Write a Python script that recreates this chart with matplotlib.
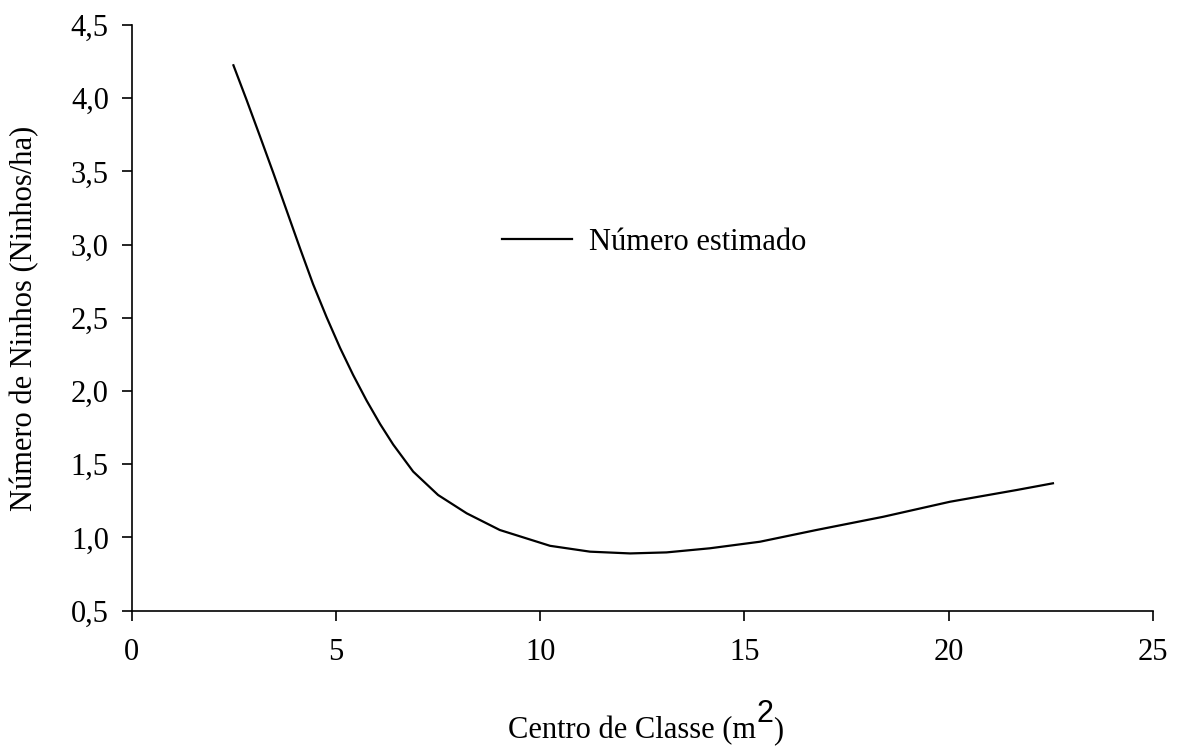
import numpy as np
import matplotlib
matplotlib.use("Agg")
import matplotlib.pyplot as plt

plt.rcParams['font.family'] = ['Liberation Serif', 'DejaVu Serif']

# estimated nest density along class centre
centro = [2.49, 2.81, 3.14, 3.47, 3.79, 4.12, 4.44, 4.77, 5.10, 5.42, 5.75,
          6.08, 6.40, 6.89, 7.50, 8.20, 9.01, 10.24, 11.22, 12.20, 13.09,
          14.15, 15.38, 16.76, 18.39, 20.03, 21.66, 22.55]
ninhos = [4.225, 3.990, 3.740, 3.487, 3.235, 2.975, 2.730, 2.505, 2.295,
          2.110, 1.935, 1.775, 1.635, 1.450, 1.290, 1.165, 1.051, 0.943,
          0.903, 0.891, 0.898, 0.926, 0.971, 1.051, 1.141, 1.244, 1.324,
          1.370]

x_ticks = [0, 5, 10, 15, 20, 25]
y_ticks = [0.5, 1.0, 1.5, 2.0, 2.5, 3.0, 3.5, 4.0, 4.5]
y_tick_labels = ['0,5', '1,0', '1,5', '2,0', '2,5', '3,0', '3,5', '4,0', '4,5']

FS = 22

fig = plt.figure(figsize=(11.78, 7.47), dpi=100)
ax = fig.add_axes([0.1118, 0.1825, 0.867, 0.784])

ax.plot(centro, ninhos, color='black', linewidth=1.6,
        solid_joinstyle='round', label='Número estimado')

ax.set_xlim(0, 25)
ax.set_ylim(0.5, 4.5)
ax.set_xticks(x_ticks)
ax.set_xticklabels([str(t) for t in x_ticks])
ax.set_yticks(y_ticks)
ax.set_yticklabels(y_tick_labels)

for side in ['top', 'right']:
    ax.spines[side].set_visible(False)
for side in ['left', 'bottom']:
    ax.spines[side].set_linewidth(1.2)
ax.tick_params(direction='out', length=7.5, width=1.2, labelsize=FS)
ax.tick_params(axis='x', pad=12)
ax.tick_params(axis='y', pad=9)

# y label
fig.text(25 / 1178, 1 - 318 / 747, 'Número de Ninhos (Ninhos/ha)',
         fontsize=FS, rotation=90, ha='center', va='center')

# x label with a full-size raised "2"
t1 = fig.text(508 / 1178, 1 - 738 / 747, 'Centro de Classe (m',
              fontsize=FS, ha='left', va='baseline')
t2 = ax.annotate('2', xy=(1, 1 - 722 / 747),
                 xycoords=(t1, 'figure fraction'), fontsize=FS,
                 family='Liberation Sans', ha='left', va='baseline')
ax.annotate(')', xy=(1, 1 - 738 / 747), xycoords=(t2, 'figure fraction'),
            fontsize=FS, ha='left', va='baseline')

ax.legend(loc='center left', bbox_to_anchor=(0.3626, 0.6295), frameon=False,
          fontsize=FS, handlelength=2.3, handletextpad=0.55, borderpad=0,
          borderaxespad=0)

fig.savefig('out.png', dpi=100)
